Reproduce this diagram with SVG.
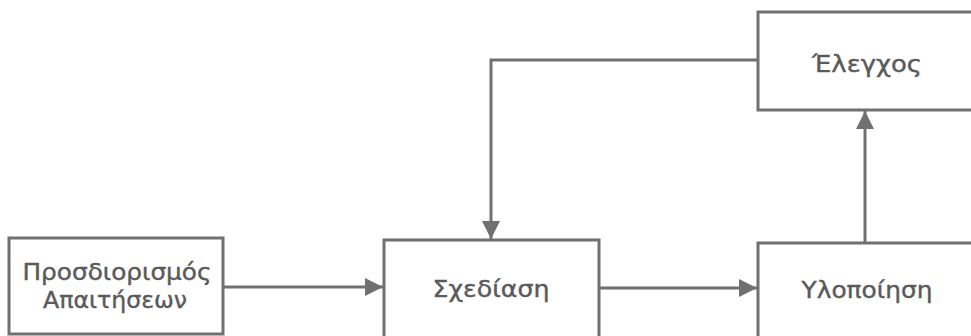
<svg xmlns="http://www.w3.org/2000/svg" width="971" height="336" viewBox="0 0 971 336">
<style>
.box{fill:#fff;stroke:#707070;stroke-width:3}
.lbl{font-family:"DejaVu Sans",sans-serif;font-size:23px;fill:#5a5a5a;stroke:#5a5a5a;stroke-width:0.4;text-anchor:middle}
.con{fill:none;stroke:#707070;stroke-width:3}
</style>
<defs>
<marker id="ah" viewBox="0 0 10 10" refX="10" refY="5" markerWidth="6" markerHeight="6" markerUnits="strokeWidth" orient="auto">
<path d="M0,0 L10,5 L0,10 z" fill="#707070"/>
</marker>
</defs>
<rect width="971" height="336" fill="#fff"/>
<g id="n1">
<rect class="box" x="9" y="238" width="214" height="96"/>
<text class="lbl" x="117" y="280" textLength="189" lengthAdjust="spacingAndGlyphs">Προσδιορισμός</text>
<text class="lbl" x="115" y="308" textLength="144" lengthAdjust="spacingAndGlyphs">Απαιτήσεων</text>
</g>
<g id="n2">
<rect class="box" x="384" y="240" width="215" height="110"/>
<text class="lbl" x="491" y="297" textLength="117" lengthAdjust="spacingAndGlyphs">Σχεδίαση</text>
</g>
<g id="n3">
<rect class="box" x="758" y="243" width="220" height="110"/>
<text class="lbl" x="867" y="298" textLength="131" lengthAdjust="spacingAndGlyphs">Υλοποίηση</text>
</g>
<g id="n4">
<rect class="box" x="758" y="12" width="220" height="98"/>
<text class="lbl" x="867" y="72" textLength="110" lengthAdjust="spacingAndGlyphs">Έλεγχος</text>
</g>
<g id="connectors">
<path class="con" d="M223,287 L383,287" marker-end="url(#ah)"/>
<path class="con" d="M599,288 L757,288" marker-end="url(#ah)"/>
<path class="con" d="M865,243 L865,111" marker-end="url(#ah)"/>
<path class="con" d="M758,60 L491,60 L491,239" marker-end="url(#ah)"/>
</g>
</svg>
